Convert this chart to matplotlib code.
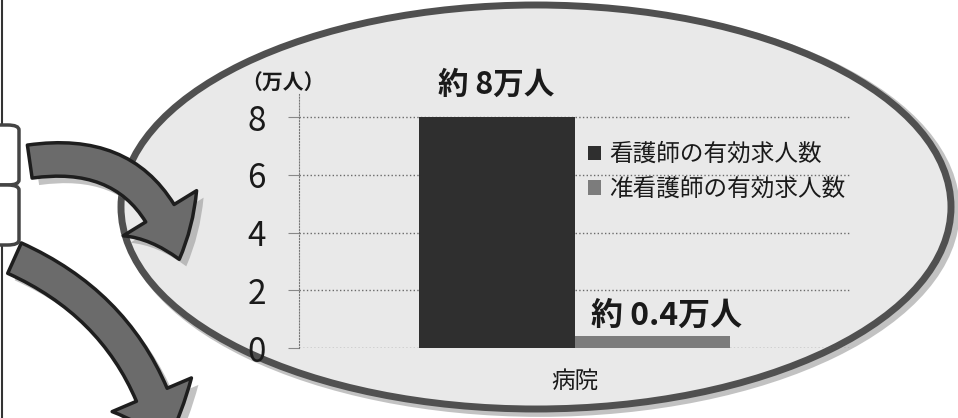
import matplotlib
matplotlib.use('Agg')
import matplotlib.pyplot as plt
from matplotlib.patches import Ellipse, FancyArrowPatch, FancyBboxPatch, Patch

plt.rcParams['font.family'] = ['Noto Sans CJK JP', 'DejaVu Sans']

# data
categories = ['病院']
series_names = ['看護師の有効求人数', '准看護師の有効求人数']
series_values = [8, 0.4]
value_labels = ['約 8万人', '約 0.4万人']
y_ticks = [0, 2, 4, 6, 8]
unit_label = '（万人）'

W, H = 958, 418
fig = plt.figure(figsize=(W / 100, H / 100), dpi=100)
fig.patch.set_facecolor('white')


def px(x, y):
    return (x / W, 1 - y / H)


# background ellipse (callout), with a soft shadow ring
shadow = Ellipse(px(540, 210), 830 / W, 404 / H, transform=fig.transFigure,
                 facecolor='none', edgecolor='#9a9a9a', linewidth=7, alpha=0.6, zorder=0)
fig.patches.append(shadow)
ell = Ellipse(px(536, 207), 830 / W, 404 / H, angle=0, transform=fig.transFigure,
              facecolor='#e9e9e9', edgecolor='#505050', linewidth=5, zorder=0)
fig.patches.append(ell)

# left border and brackets
fig.add_artist(plt.Line2D([2 / W, 2 / W], [0, 1], transform=fig.transFigure,
                          color='#333333', lw=1.5, zorder=1))
for y0 in (125, 185):
    b = FancyBboxPatch(px(-12, y0 + 60), 31 / W, 60 / H, boxstyle='round,pad=0,rounding_size=0.012',
                       transform=fig.transFigure, facecolor='white', edgecolor='#444444', lw=2.5, zorder=1)
    fig.patches.append(b)

# curved arrows with shadows
arrows = [
    dict(a=(27, 162), b=(180, 262), rad=-0.45),
    dict(a=(12, 257), b=(168, 445), rad=-0.25),
]
for arr in arrows:
    for dx, fc, ec, al, z in [(7, '#9a9a9a', 'none', 0.6, 2), (0, '#6b6b6b', '#1e1e1e', 1.0, 3)]:
        p = FancyArrowPatch(px(arr['a'][0] + dx, arr['a'][1] + dx), px(arr['b'][0] + dx, arr['b'][1] + dx),
                            transform=fig.transFigure,
                            connectionstyle=f"arc3,rad={arr['rad']}",
                            arrowstyle='simple,head_width=62,head_length=36,tail_width=24',
                            facecolor=fc, edgecolor=ec, lw=2.5, alpha=al, zorder=z)
        fig.patches.append(p)

# chart axes
ax = fig.add_axes([299 / W, 1 - 348 / H, (850 - 299) / W, (348 - 94) / H])
ax.set_facecolor('none')
ax.set_zorder(4)

bar_colors = ['#2f2f2f', '#7c7c7c']
width = 0.566
offsets = [-width / 2, width / 2]
for i, (name, val) in enumerate(zip(series_names, series_values)):
    ax.bar(0 + offsets[i], val, width=width, color=bar_colors[i], label=name, zorder=3)

ax.annotate(value_labels[0], xy=(offsets[0], series_values[0]), xytext=(0, 23),
            textcoords='offset points', ha='center', va='center',
            fontsize=22, fontweight='bold', color='#1a1a1a')
ax.annotate(value_labels[1], xy=(offsets[1], series_values[1]), xytext=(10, 15),
            textcoords='offset points', ha='center', va='center',
            fontsize=23, fontweight='bold', color='#1a1a1a')

ax.set_xlim(-1, 1)
ax.set_ylim(0, 8.8)
ax.set_yticks(y_ticks)
ax.set_yticklabels([str(t) for t in y_ticks], fontsize=24, color='#1a1a1a')
ax.set_xticks([0])
ax.set_xticklabels(categories, fontsize=17, color='#1a1a1a')
ax.tick_params(axis='x', length=0, pad=16)
ax.tick_params(axis='y', length=8, color='#888888', pad=16)
ax.grid(axis='y', linestyle=':', color='#6a6a6a', lw=1, zorder=1)
for s in ['top', 'right', 'bottom']:
    ax.spines[s].set_visible(False)
ax.spines['left'].set_linestyle(':')
ax.spines['left'].set_color('#777777')

fig.text(*px(283, 83), unit_label, fontsize=15, fontweight='bold', ha='center', va='center', color='#1a1a1a')

handles = [Patch(facecolor=c, edgecolor='none') for c in bar_colors]
leg = ax.legend(handles, series_names, loc='upper left', bbox_to_anchor=px(588, 143),
                bbox_transform=fig.transFigure, frameon=False, fontsize=17,
                handlelength=0.55, handleheight=0.55, handletextpad=0.35,
                labelspacing=0.5, borderpad=0, borderaxespad=0)
for t in leg.get_texts():
    t.set_color('#1a1a1a')

fig.savefig('out.png', dpi=100)
